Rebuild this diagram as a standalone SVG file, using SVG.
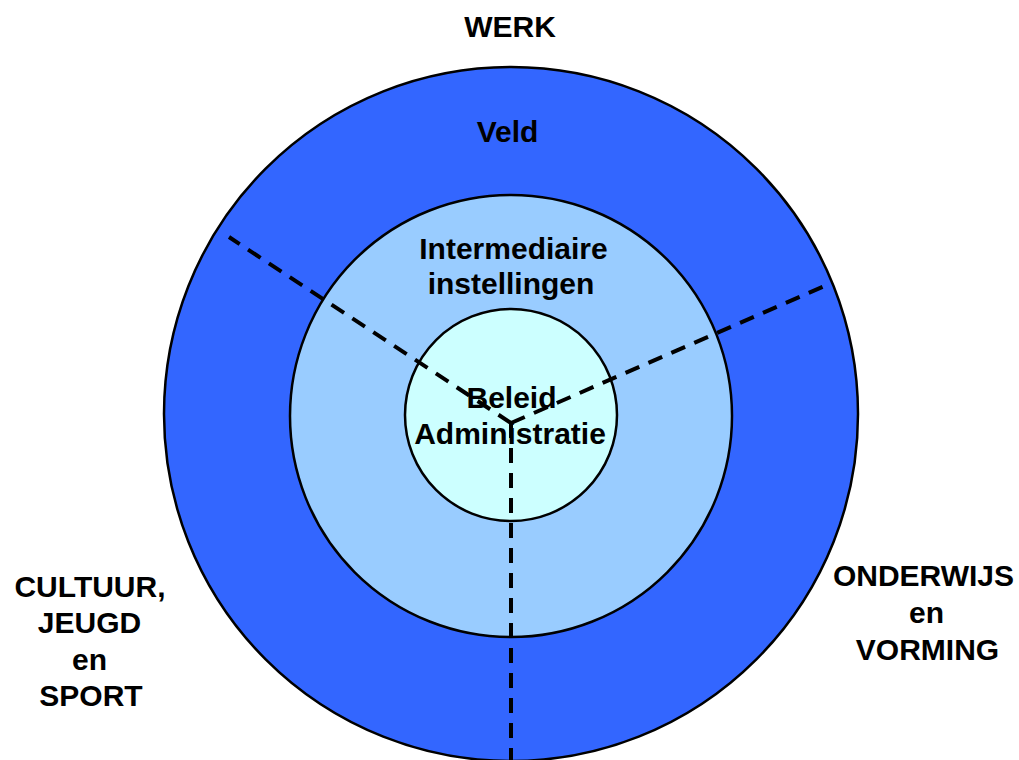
<svg xmlns="http://www.w3.org/2000/svg" width="1019" height="760" viewBox="0 0 1019 760">
<style>
text{font-family:"Liberation Sans",Arial,sans-serif;font-weight:bold;font-size:30px;fill:#000;text-anchor:middle}
.ring{stroke:#000;stroke-width:2.5}
.dash{fill:none;stroke:#000;stroke-width:4;stroke-dasharray:15 10}
</style>
<rect width="1019" height="760" fill="#fff"/>
<g id="outer"><circle class="ring" cx="511" cy="414" r="347" fill="#3366FF"/></g>
<g id="middle"><circle class="ring" cx="511" cy="416" r="221" fill="#99CCFF"/></g>
<g id="inner"><circle class="ring" cx="511" cy="415" r="106" fill="#CCFFFF"/></g>
<g id="connectors">
<line class="dash" x1="511" y1="423" x2="229" y2="237"/>
<line class="dash" x1="511" y1="423" x2="829" y2="284"/>
<line class="dash" x1="511" y1="423" x2="511" y2="760"/>
</g>
<g id="labels">
<text x="510" y="37">WERK</text>
<text x="507.5" y="142">Veld</text>
<text x="513.5" y="259">Intermediaire</text>
<text x="511" y="294">instellingen</text>
<text x="511.5" y="408">Beleid</text>
<text x="510" y="444">Administratie</text>
<text x="90" y="597">CULTUUR,</text>
<text x="89.5" y="633">JEUGD</text>
<text x="89.5" y="670">en</text>
<text x="91" y="706">SPORT</text>
<text x="923.5" y="586">ONDERWIJS</text>
<text x="926.5" y="623">en</text>
<text x="927.5" y="660">VORMING</text>
</g>
</svg>
